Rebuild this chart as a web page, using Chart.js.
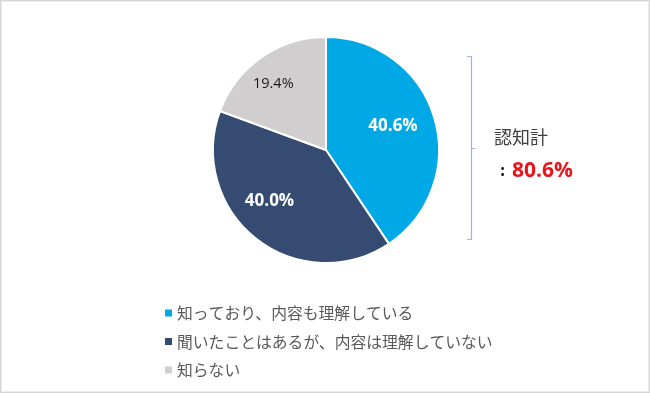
<!DOCTYPE html>
<html>
<head>
<meta charset="utf-8">
<script src="https://cdn.jsdelivr.net/npm/chart.js@4/dist/chart.umd.min.js"></script>
<style>
  html, body { margin: 0; padding: 0; background: #fff; }
  #wrap { position: relative; width: 650px; height: 393px; }
  canvas { display: block; }
</style>
</head>
<body>
<div id="wrap"><canvas id="c" width="650" height="393"></canvas></div>
<script>
const categories = ['知っており、内容も理解している', '聞いたことはあるが、内容は理解していない', '知らない'];
const seriesValues = [40.6, 40.0, 19.4];
const valueLabels = ['40.6%', '40.0%', '19.4%'];
const totalLabel = '認知計';
const totalValue = '80.6%';

const colors = ['#00A9E6', '#354B72', '#D0CECE'];
const labelStyles = [
  { color: '#ffffff', font: 'bold 17px "Open Sans", "Noto Sans", sans-serif', dx: 0, dy: -3, frac: 0.62 },
  { color: '#ffffff', font: 'bold 17px "Open Sans", "Noto Sans", sans-serif', dx: -9, dy: -9, frac: 0.68 },
  { color: '#1a1a1a', font: '14.5px "Open Sans", "Noto Sans", sans-serif', dx: -10, dy: -5, frac: 0.66 }
];

const overlay = {
  id: 'overlay',
  afterDatasetsDraw(chart) {
    const ctx = chart.ctx;
    const meta = chart.getDatasetMeta(0);
    ctx.save();
    meta.data.forEach((arc, i) => {
      const p = arc.getProps(['x', 'y', 'startAngle', 'endAngle', 'outerRadius'], true);
      const mid = (p.startAngle + p.endAngle) / 2;
      const st = labelStyles[i];
      const r = p.outerRadius * st.frac;
      const x = p.x + Math.cos(mid) * r + st.dx;
      const y = p.y + Math.sin(mid) * r + st.dy;
      ctx.font = st.font;
      ctx.fillStyle = st.color;
      ctx.textAlign = 'center';
      ctx.textBaseline = 'middle';
      ctx.fillText(valueLabels[i], x, y);
    });
    const lx = 165, ly0 = 313, step = 28.5;
    categories.forEach((c, i) => {
      const y = ly0 + i * step;
      ctx.fillStyle = colors[i];
      ctx.fillRect(lx, y - 3.5, 7, 7);
      ctx.fillStyle = '#595959';
      ctx.font = '15.8px "Noto Sans CJK JP", sans-serif';
      ctx.textAlign = 'left';
      ctx.textBaseline = 'middle';
      ctx.fillText(c, lx + 12, y);
    });
    ctx.strokeStyle = '#9DB4DE';
    ctx.lineWidth = 1.2;
    ctx.beginPath();
    ctx.moveTo(467, 56.5);
    ctx.lineTo(471.5, 56.5);
    ctx.lineTo(471.5, 239.5);
    ctx.lineTo(467, 239.5);
    ctx.moveTo(471.5, 148.5);
    ctx.lineTo(475, 148.5);
    ctx.stroke();
    ctx.fillStyle = '#404040';
    ctx.font = '18px "Noto Sans CJK JP", sans-serif';
    ctx.textAlign = 'left';
    ctx.textBaseline = 'middle';
    ctx.fillText(totalLabel, 494, 137);
    ctx.font = 'bold 16px "Noto Sans CJK JP", sans-serif';
    ctx.fillStyle = '#1a1a1a';
    ctx.fillText(':', 500, 170);
    ctx.fillStyle = '#E8141B';
    ctx.font = 'bold 21px "Open Sans", "Noto Sans", sans-serif';
    ctx.fillText(totalValue, 512, 171);
    ctx.strokeStyle = '#d6d6d6';
    ctx.lineWidth = 1;
    ctx.strokeRect(0.5, 0.5, 649, 392);
    ctx.strokeStyle = '#ececec';
    ctx.strokeRect(1.5, 1.5, 647, 390);
    ctx.restore();
  }
};

new Chart(document.getElementById('c'), {
  type: 'pie',
  data: {
    labels: categories,
    datasets: [{
      data: seriesValues,
      backgroundColor: colors,
      borderColor: '#ffffff',
      borderWidth: 2,
      hoverOffset: 0,
      radius: 113
    }]
  },
  options: {
    responsive: false,
    animation: false,
    events: [],
    layout: { padding: { left: 213, right: 211, top: 37, bottom: 130 } },
    plugins: { legend: { display: false }, tooltip: { enabled: false } }
  },
  plugins: [overlay]
});
</script>
</body>
</html>
